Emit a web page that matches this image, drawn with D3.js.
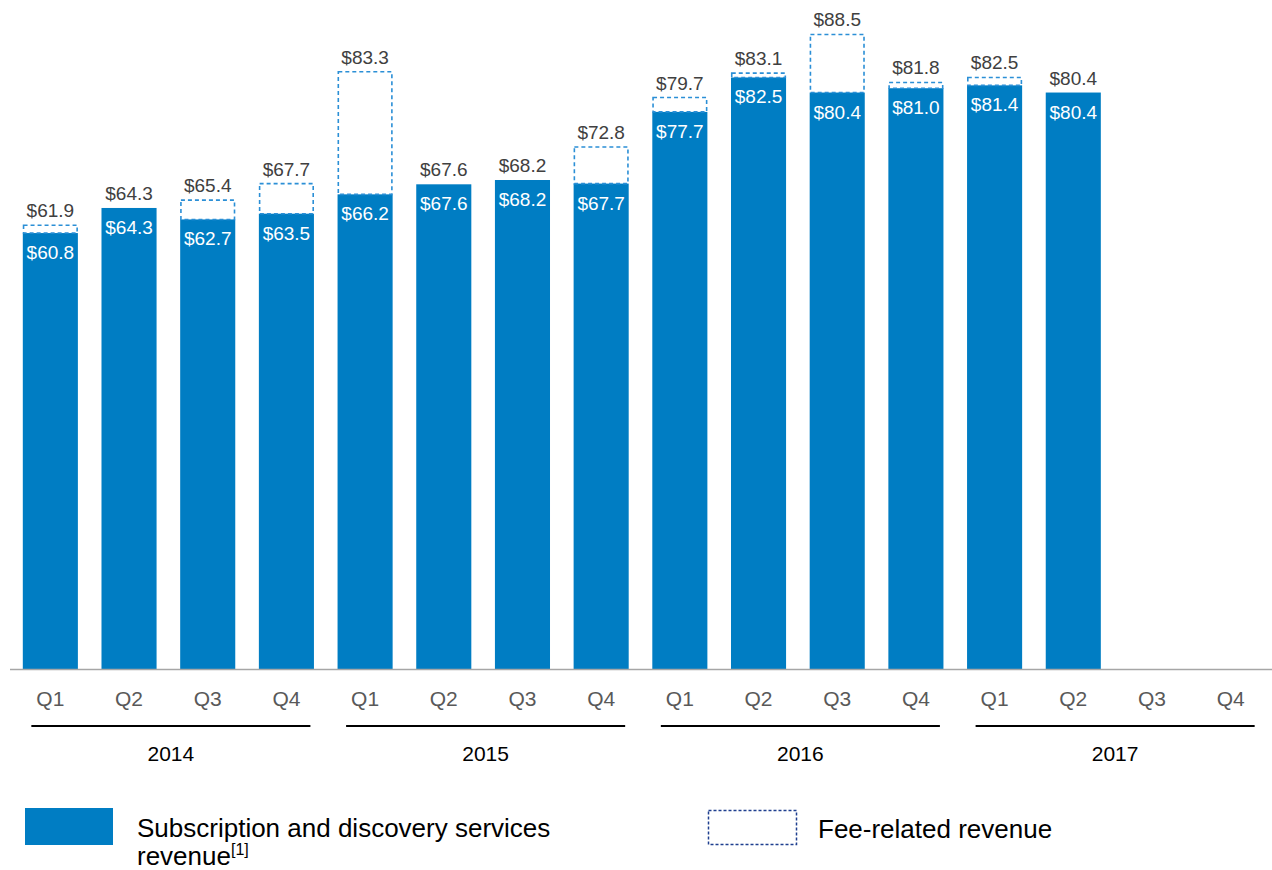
<!DOCTYPE html>
<html>
<head>
<meta charset="utf-8">
<script src="https://cdn.jsdelivr.net/npm/d3@7"></script>
<style>
  body { margin: 0; background: #fff; }
  text { font-family: "Liberation Sans", Arial, sans-serif; }
</style>
</head>
<body>
<svg id="chart" width="1272" height="870"></svg>
<script>
// data
const years = ["2014", "2015", "2016", "2017"];
const quarters = ["Q1", "Q2", "Q3", "Q4"];
const subscription = [60.8, 64.3, 62.7, 63.5, 66.2, 67.6, 68.2, 67.7, 77.7, 82.5, 80.4, 81.0, 81.4, 80.4];
const totals = [61.9, 64.3, 65.4, 67.7, 83.3, 67.6, 68.2, 72.8, 79.7, 83.1, 88.5, 81.8, 82.5, 80.4];

const slots = [];
years.forEach(y => quarters.forEach(q => slots.push(y + "-" + q)));

const svg = d3.select("#chart");
const blue = "#007dc3";

const x = d3.scaleBand().domain(slots).range([11, 1270]).paddingInner(0.3).paddingOuter(0.15);
const y = d3.scaleLinear().domain([0, 100]).range([669, -48]);

const rows = subscription.map((s, i) => ({ key: slots[i], sub: s, total: totals[i] }));

// subscription bars
svg.selectAll("rect.sub").data(rows).enter().append("rect")
  .attr("class", "sub")
  .attr("x", d => x(d.key))
  .attr("y", d => y(d.sub))
  .attr("width", x.bandwidth())
  .attr("height", d => y(0) - y(d.sub))
  .attr("fill", blue);

// fee-related dashed boxes
svg.selectAll("rect.fee").data(rows.filter(d => d.total > d.sub)).enter().append("rect")
  .attr("class", "fee")
  .attr("x", d => x(d.key) + 0.75)
  .attr("y", d => y(d.total))
  .attr("width", x.bandwidth() - 1.5)
  .attr("height", d => y(d.sub) - y(d.total))
  .attr("fill", "none")
  .attr("stroke", "#2b8fd6")
  .attr("stroke-width", 1.6)
  .attr("stroke-dasharray", "4,3");

// labels
svg.selectAll("text.tot").data(rows).enter().append("text")
  .attr("x", d => x(d.key) + x.bandwidth() / 2)
  .attr("y", d => y(d.total) - 8)
  .attr("text-anchor", "middle")
  .attr("font-size", 19)
  .attr("fill", "#404040")
  .text(d => "$" + d.total.toFixed(1));

svg.selectAll("text.in").data(rows).enter().append("text")
  .attr("x", d => x(d.key) + x.bandwidth() / 2)
  .attr("y", d => y(d.sub) + 26)
  .attr("text-anchor", "middle")
  .attr("font-size", 19)
  .attr("fill", "#fff")
  .text(d => "$" + d.sub.toFixed(1));

// baseline
svg.append("line")
  .attr("x1", 10).attr("x2", 1272)
  .attr("y1", y(0) + 0.5).attr("y2", y(0) + 0.5)
  .attr("stroke", "#a6a6a6").attr("stroke-width", 1.5);

// quarter labels
svg.selectAll("text.q").data(slots).enter().append("text")
  .attr("x", d => x(d) + x.bandwidth() / 2)
  .attr("y", 706)
  .attr("text-anchor", "middle")
  .attr("font-size", 21)
  .attr("fill", "#595959")
  .text(d => d.split("-")[1]);

// year brackets
years.forEach(yr => {
  const a = x(yr + "-Q1") + x.bandwidth() / 2 - 19;
  const b = x(yr + "-Q4") + x.bandwidth() / 2 + 24;
  svg.append("line")
    .attr("x1", a).attr("x2", b).attr("y1", 726).attr("y2", 726)
    .attr("stroke", "#000").attr("stroke-width", 2);
  svg.append("text")
    .attr("x", (a + b) / 2).attr("y", 761)
    .attr("text-anchor", "middle")
    .attr("font-size", 21).attr("fill", "#000")
    .text(yr);
});

// legend
svg.append("rect").attr("x", 25).attr("y", 808).attr("width", 88).attr("height", 37).attr("fill", blue);
svg.append("text").attr("x", 137).attr("y", 837).attr("font-size", 26).attr("fill", "#000")
  .text("Subscription and discovery services");
const t2 = svg.append("text").attr("x", 137).attr("y", 865).attr("font-size", 26).attr("fill", "#000");
t2.append("tspan").text("revenue");
t2.append("tspan").attr("font-size", 16).attr("dy", -10).text("[1]");

svg.append("rect").attr("x", 708.5).attr("y", 810.5).attr("width", 88).attr("height", 34)
  .attr("fill", "none").attr("stroke", "#1f3f8f").attr("stroke-width", 1.5).attr("stroke-dasharray", "3,2");
svg.append("text").attr("x", 818).attr("y", 838).attr("font-size", 26).attr("fill", "#000")
  .text("Fee-related revenue");
</script>
</body>
</html>
